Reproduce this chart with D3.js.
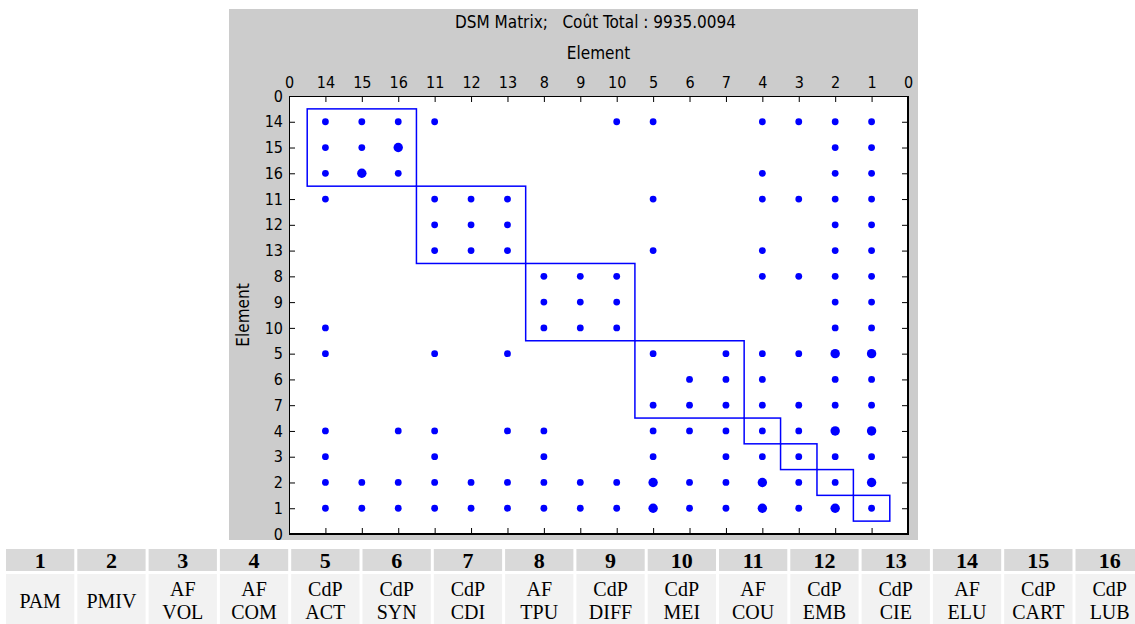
<!DOCTYPE html>
<html>
<head>
<meta charset="utf-8">
<script src="https://cdn.jsdelivr.net/npm/d3@7"></script>
<style>
  html, body { margin: 0; padding: 0; background: #ffffff; overflow: hidden; }
  svg { display: block; }
</style>
</head>
<body>
<svg id="chart" width="1135" height="624"></svg>
<script>
// ---------------- DATA ----------------
const chartTitle = "DSM Matrix;   Coût Total : 9935.0094";
const axisTitle = "Element";
// element order along both axes (after clustering)
const elementOrder = [14, 15, 16, 11, 12, 13, 8, 9, 10, 5, 6, 7, 4, 3, 2, 1];
// tick labels (positions 0 .. 17)
const tickLabels = ["0", "14", "15", "16", "11", "12", "13", "8", "9", "10", "5", "6", "7", "4", "3", "2", "1", "0"];
// rows of the DSM: row element and the column elements holding a mark
const rowElements = [14, 15, 16, 11, 12, 13, 8, 9, 10, 5, 6, 7, 4, 3, 2, 1];
const rowLinks = [
  [14, 15, 16, 11, 10, 5, 4, 3, 2, 1],
  [14, 15, 16, 2, 1],
  [14, 15, 16, 4, 2, 1],
  [14, 11, 12, 13, 5, 4, 3, 2, 1],
  [11, 12, 13, 2, 1],
  [11, 12, 13, 5, 4, 2, 1],
  [8, 9, 10, 4, 3, 2, 1],
  [8, 9, 10, 2, 1],
  [14, 8, 9, 10, 2, 1],
  [14, 11, 13, 5, 7, 4, 3, 2, 1],
  [6, 7, 4, 2, 1],
  [5, 6, 7, 4, 3, 2, 1],
  [14, 16, 11, 13, 8, 5, 6, 7, 4, 3, 2, 1],
  [14, 11, 8, 5, 7, 4, 3, 2, 1],
  [14, 15, 16, 11, 12, 13, 8, 9, 10, 5, 6, 7, 4, 3, 2, 1],
  [14, 15, 16, 11, 12, 13, 8, 9, 10, 5, 6, 7, 4, 3, 2, 1]
];
// marks drawn larger (stronger interaction): [row element, column element]
const strongLinks = [[15, 16], [16, 15], [5, 2], [5, 1], [4, 2], [4, 1], [2, 5], [2, 4], [2, 1], [1, 5], [1, 4], [1, 2]];
// clusters (element groups, in order)
const clusters = [[14, 15, 16], [11, 12, 13], [8, 9, 10], [5, 6, 7], [4], [3], [2], [1]];
// legend table
const elementIds = ["1", "2", "3", "4", "5", "6", "7", "8", "9", "10", "11", "12", "13", "14", "15", "16"];
const elementNames = [
  ["PAM"], ["PMIV"], ["AF", "VOL"], ["AF", "COM"], ["CdP", "ACT"], ["CdP", "SYN"], ["CdP", "CDI"], ["AF", "TPU"],
  ["CdP", "DIFF"], ["CdP", "MEI"], ["AF", "COU"], ["CdP", "EMB"], ["CdP", "CIE"], ["AF", "ELU"], ["CdP", "CART"], ["CdP", "LUB"]
];

// ---------------- LAYOUT ----------------
const svg = d3.select("#chart");
const figBox = { x: 229, y: 9, w: 689, h: 531 };
const plot = { left: 289, right: 908, top: 96, bottom: 534 };
const sansFont = "'Liberation Sans Narrow', 'DejaVu Sans Condensed', 'Liberation Sans', Arial, sans-serif";
const serifFont = "'Liberation Serif', 'Times New Roman', serif";
const blue = "#0000ff";

const n = elementOrder.length;
const x = d3.scaleLinear().domain([0, n + 1]).range([plot.left, plot.right]);
const y = d3.scaleLinear().domain([0, n + 1]).range([plot.top, plot.bottom]);
const posOf = e => elementOrder.indexOf(e) + 1;

// figure background
svg.append("rect").attr("x", figBox.x).attr("y", figBox.y).attr("width", figBox.w).attr("height", figBox.h)
  .attr("fill", "#cccccc");
// axes background
svg.append("rect").attr("x", plot.left).attr("y", plot.top)
  .attr("width", plot.right - plot.left).attr("height", plot.bottom - plot.top).attr("fill", "#ffffff");

// title and axis labels
svg.append("text").attr("x", (plot.left + plot.right) / 2 - 3).attr("y", 28)
  .attr("text-anchor", "middle").attr("font-family", sansFont).attr("font-size", 17)
  .attr("xml:space", "preserve").style("white-space", "pre").text(chartTitle);
svg.append("text").attr("x", (plot.left + plot.right) / 2).attr("y", 59)
  .attr("text-anchor", "middle").attr("font-family", sansFont).attr("font-size", 17).text(axisTitle);
svg.append("text").attr("transform", `translate(249,${(plot.top + plot.bottom) / 2}) rotate(-90)`)
  .attr("text-anchor", "middle").attr("font-family", sansFont).attr("font-size", 17).text(axisTitle);

const ticks = d3.range(0, n + 2);
const styleAxis = g => {
  g.selectAll("text").attr("font-family", sansFont).attr("font-size", 16).attr("fill", "#000");
  g.selectAll("line").attr("stroke", "#000");
  g.select(".domain").remove();
};
svg.append("g").attr("transform", `translate(0,${plot.top})`)
  .call(d3.axisTop(x).tickValues(ticks).tickFormat(i => tickLabels[i]).tickSizeInner(-6).tickSizeOuter(0).tickPadding(8))
  .call(styleAxis);
svg.append("g").attr("transform", `translate(${plot.left},0)`)
  .call(d3.axisLeft(y).tickValues(ticks).tickFormat(i => tickLabels[i]).tickSizeInner(-6).tickSizeOuter(0).tickPadding(6))
  .call(styleAxis);
svg.append("g").attr("transform", `translate(0,${plot.bottom})`)
  .call(d3.axisBottom(x).tickValues(ticks).tickFormat("").tickSizeInner(-6).tickSizeOuter(0))
  .call(styleAxis);
svg.append("g").attr("transform", `translate(${plot.right},0)`)
  .call(d3.axisRight(y).tickValues(ticks).tickFormat("").tickSizeInner(-6).tickSizeOuter(0))
  .call(styleAxis);

// axis box
svg.append("line").attr("x1", plot.left).attr("x2", plot.right).attr("y1", plot.top + 0.5).attr("y2", plot.top + 0.5)
  .attr("stroke", "#000").attr("stroke-width", 1);
svg.append("line").attr("x1", plot.left + 0.5).attr("x2", plot.left + 0.5).attr("y1", plot.top).attr("y2", plot.bottom)
  .attr("stroke", "#000").attr("stroke-width", 1);
svg.append("line").attr("x1", plot.left).attr("x2", plot.right + 1).attr("y1", plot.bottom).attr("y2", plot.bottom)
  .attr("stroke", "#000").attr("stroke-width", 2);
svg.append("line").attr("x1", plot.right).attr("x2", plot.right).attr("y1", plot.top).attr("y2", plot.bottom + 1)
  .attr("stroke", "#000").attr("stroke-width", 2);

// cluster boxes
svg.append("g").selectAll("rect").data(clusters).join("rect")
  .attr("x", c => x(posOf(c[0]) - 0.5))
  .attr("y", c => y(posOf(c[0]) - 0.5))
  .attr("width", c => x(posOf(c[c.length - 1]) + 0.5) - x(posOf(c[0]) - 0.5))
  .attr("height", c => y(posOf(c[c.length - 1]) + 0.5) - y(posOf(c[0]) - 0.5))
  .attr("fill", "none").attr("stroke", blue).attr("stroke-width", 1.5);

// marks
const strongSet = new Set(strongLinks.map(d => d[0] + "-" + d[1]));
const marks = [];
rowElements.forEach((r, i) => rowLinks[i].forEach(c => marks.push({ row: r, col: c, strong: strongSet.has(r + "-" + c) })));
svg.append("g").selectAll("circle").data(marks).join("circle")
  .attr("cx", d => x(posOf(d.col)))
  .attr("cy", d => y(posOf(d.row)))
  .attr("r", d => d.strong ? 4.7 : 3.4)
  .attr("fill", blue);

// ---------------- TABLE ----------------
const table = { left: 6, pitch: 71.3, gap: 3, headTop: 549, headH: 22, bodyTop: 574, bodyH: 60 };
const cols = svg.append("g").selectAll("g").data(elementIds).join("g")
  .attr("transform", (d, i) => `translate(${table.left + i * table.pitch},0)`);
const cw = table.pitch - table.gap;
cols.append("rect").attr("x", 0).attr("y", table.headTop).attr("width", cw).attr("height", table.headH).attr("fill", "#d9d9d9");
cols.append("rect").attr("x", 0).attr("y", table.bodyTop).attr("width", cw).attr("height", table.bodyH).attr("fill", "#f2f2f2");
cols.append("text").attr("x", cw / 2).attr("y", table.headTop + 19).attr("text-anchor", "middle")
  .attr("font-family", serifFont).attr("font-weight", "bold").attr("font-size", 22).text(d => d);
cols.each(function (d, i) {
  const lines = elementNames[i];
  const g = d3.select(this);
  const y0 = lines.length === 1 ? 608 : 596;
  lines.forEach((t, k) => g.append("text").attr("x", cw / 2).attr("y", y0 + k * 23).attr("text-anchor", "middle")
    .attr("font-family", serifFont).attr("font-size", 20).text(t));
});
</script>
</body>
</html>
